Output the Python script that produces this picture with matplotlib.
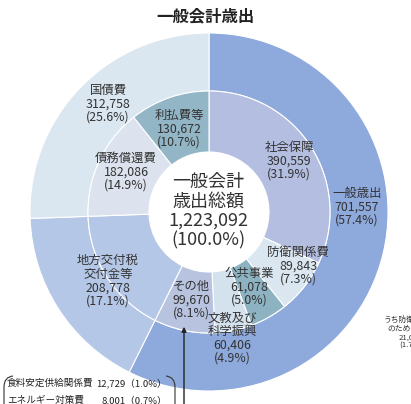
import numpy as np
import matplotlib.pyplot as plt
from matplotlib.path import Path
from matplotlib.patches import PathPatch

plt.rcParams['font.family'] = ['Noto Sans CJK JP', 'DejaVu Sans']

# outer ring: 主要区分
outer_labels = ["一般歳出", "地方交付税\n交付金等", "国債費"]
outer_values = [701557, 208778, 312758]
outer_pct = [57.4, 17.1, 25.6]

# inner ring: 内訳
inner_labels = ["社会保障", "防衛関係費", "公共事業", "文教及び\n科学振興", "その他",
                "地方交付税\n交付金等", "債務償還費", "利払費等"]
inner_values = [390559, 89843, 61078, 60406, 99670, 208778, 182086, 130672]
inner_pct = [31.9, 7.3, 5.0, 4.9, 8.1, 17.1, 14.9, 10.7]

total = 1223092

# その他の内訳 (box below)
sub_labels = ["食料安定供給関係費", "エネルギー対策費"]
sub_values = [12729, 8001]
sub_pct = [1.0, 0.7]

outer_colors = ["#8EA9DB", "#B4C7E7", "#DAE6F0"]
inner_colors = ["#B3BEE1", "#DAE7F0", "#8DB3C2", "#D4E2EE", "#B8C3DF",
                "#B4C7E7", "#DDE3EE", "#93B6C6"]

W, H = 411, 404
def py(y):
    return H - y

fig = plt.figure(figsize=(W / 100, H / 100), dpi=100)
ax = fig.add_axes([0, 0, 1, 1])

cx, cy = 209, py(212)
ax.pie(outer_values, radius=179, center=(cx, cy), startangle=90, counterclock=False,
       colors=outer_colors, wedgeprops=dict(width=58, edgecolor="white", linewidth=0.8))
ax.pie(inner_values, radius=121, center=(cx, cy), startangle=90, counterclock=False,
       colors=inner_colors, wedgeprops=dict(width=61, edgecolor="white", linewidth=0.8))

ax.set_xlim(0, W)
ax.set_ylim(0, H)
ax.set_aspect("equal")
ax.axis("off")

tc = "#333333"
fs = 8.9

def label(x, y, name, val, pct):
    ax.text(x, py(y), f"{name}\n{val:,}\n({pct:.1f}%)", ha="center", va="center",
            fontsize=fs, color=tc, linespacing=1.05)

# outer labels (pixel layout)
label(357, 207, "一般歳出", outer_values[0], outer_pct[0])
label(108, 281, outer_labels[1], outer_values[1], outer_pct[1])
label(108, 104, outer_labels[2], outer_values[2], outer_pct[2])

# inner labels
inner_pos = [(289, 161), (298, 266), (249, 287), (232, 338), (191, 300),
             None, (126, 172), (179, 129)]
for pos, name, val, pct in zip(inner_pos, inner_labels, inner_values, inner_pct):
    if pos is not None:
        label(pos[0], pos[1], name, val, pct)

# center
ax.text(208, py(211), f"一般会計\n歳出総額\n{total:,}\n(100.0%)", ha="center", va="center",
        fontsize=13, color=tc, linespacing=1.1)

# title
ax.text(205, py(16), "一般会計歳出", ha="center", va="center", fontsize=11.8,
        fontweight="bold", color="#222222")

# arrow to その他
ax.annotate("", xy=(184, py(324)), xytext=(184, py(410)),
            arrowprops=dict(arrowstyle="-|>", color="#222222", lw=1.0,
                            mutation_scale=7))

# bracket box below
ax.add_patch(PathPatch(Path([(13, py(376)), (4, py(377)), (4, py(387)), (4, py(410))],
                            [Path.MOVETO, Path.CURVE3, Path.CURVE3, Path.LINETO]),
                       fill=False, color="#333333", lw=0.8))
ax.add_patch(PathPatch(Path([(166, py(376)), (175, py(377)), (175, py(387)), (175, py(410))],
                            [Path.MOVETO, Path.CURVE3, Path.CURVE3, Path.LINETO]),
                       fill=False, color="#333333", lw=0.8))

for i, (n, v, p) in enumerate(zip(sub_labels, sub_values, sub_pct)):
    y = py(383 + i * 17)
    ax.text(7, y, n, ha="left", va="center", fontsize=6.9, color="#222222")
    ax.text(167, y, f"{v:,}（{p:.1f}%）", ha="right", va="center", fontsize=6.9,
            color="#222222")

# clipped side note
ax.text(411, py(333), "うち防衛力強化\nのための対応\n21,000\n(1.7%)", ha="center",
        va="center", fontsize=5.6, color=tc, linespacing=1.1)

fig.savefig("out.png", dpi=100)
